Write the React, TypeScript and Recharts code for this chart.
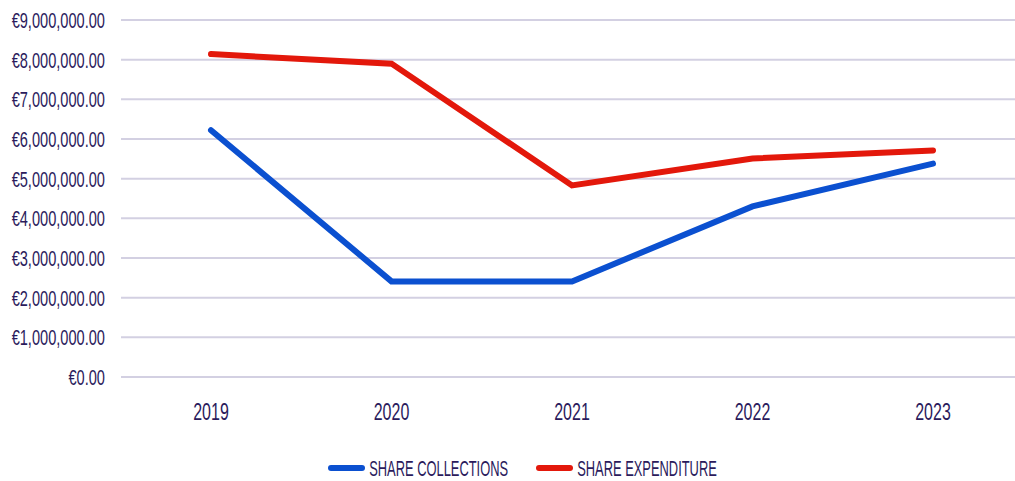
import React from 'react';
import { LineChart, Line, XAxis, YAxis, CartesianGrid, Legend } from 'recharts';

const years = ['2019', '2020', '2021', '2022', '2023'];
const shareCollections = [6220000, 2410000, 2410000, 4300000, 5380000];
const shareExpenditure = [8140000, 7900000, 4830000, 5510000, 5710000];
const yTicks = [0, 1000000, 2000000, 3000000, 4000000, 5000000, 6000000, 7000000, 8000000, 9000000];

const TEXT = '#2b1b5c';
const BLUE = '#0b50d0';
const RED = '#e3180b';

const data = years.map((y, i) => ({
    year: y,
    collections: shareCollections[i],
    expenditure: shareExpenditure[i],
}));

const fmtEuro = (v: number) =>
    '€' + v.toLocaleString('en-US', { minimumFractionDigits: 2, maximumFractionDigits: 2 });

// the original text is a narrow font stretched tall, so scale it
const YTick = (props: any) => {
    const { x, y, payload } = props;
    return (
        <g transform={`translate(${x - 8},${y}) scale(1,1.5)`}>
            <text x={0} y={0} dy="0.36em" textAnchor="end" fill={TEXT}
                fontFamily="Liberation Sans" fontSize={14.6}>
                {fmtEuro(payload.value)}
            </text>
        </g>
    );
};

const XTick = (props: any) => {
    const { x, y, payload } = props;
    return (
        <g transform={`translate(${x},${y + 26}) scale(1,1.5)`}>
            <text x={0} y={0} dy="0.36em" textAnchor="middle" fill={TEXT}
                fontFamily="Liberation Sans" fontSize={16}>
                {payload.value}
            </text>
        </g>
    );
};

const legendItems = [
    { label: 'SHARE COLLECTIONS', color: BLUE },
    { label: 'SHARE EXPENDITURE', color: RED },
];

const renderLegend = () => (
    <div style={{ display: 'flex', justifyContent: 'center', alignItems: 'center', gap: 28, height: 22 }}>
        {legendItems.map((it) => (
            <div key={it.label} style={{ display: 'flex', alignItems: 'center' }}>
                <div style={{ width: 37, height: 6, borderRadius: 3, background: it.color, marginRight: 4 }} />
                <span style={{
                    display: 'inline-block', color: TEXT, fontFamily: 'Liberation Sans',
                    fontSize: 12.9, transform: 'scale(1,1.7)', lineHeight: '11px',
                }}>{it.label}</span>
            </div>
        ))}
    </div>
);

export default function App() {
    return (
        <div style={{ position: 'absolute', left: 0, top: 0, width: 1015, height: 481, overflow: 'hidden', background: '#fff' }}>
            <LineChart width={1030} height={481} data={data}
                margin={{ top: 20, right: 7, bottom: 22, left: 0 }}>
                <CartesianGrid vertical={false} stroke="#d3d0e2" strokeWidth={2} />
                <XAxis dataKey="year" axisLine={false} tickLine={false} height={60}
                    padding={{ left: 90, right: 90 }} tick={<XTick />} />
                <YAxis domain={[0, 9000000]} ticks={yTicks} width={121} axisLine={false}
                    tickLine={false} tick={<YTick />} interval={0} />
                <Legend verticalAlign="bottom" content={renderLegend}
                    wrapperStyle={{ position: 'absolute', top: 457, left: 15, width: 1015, height: 22 }} />
                <Line dataKey="collections" stroke={BLUE} strokeWidth={6} strokeLinecap="round"
                    strokeLinejoin="miter" dot={false} isAnimationActive={false} />
                <Line dataKey="expenditure" stroke={RED} strokeWidth={6} strokeLinecap="round"
                    strokeLinejoin="miter" dot={false} isAnimationActive={false} />
            </LineChart>
        </div>
    );
}
